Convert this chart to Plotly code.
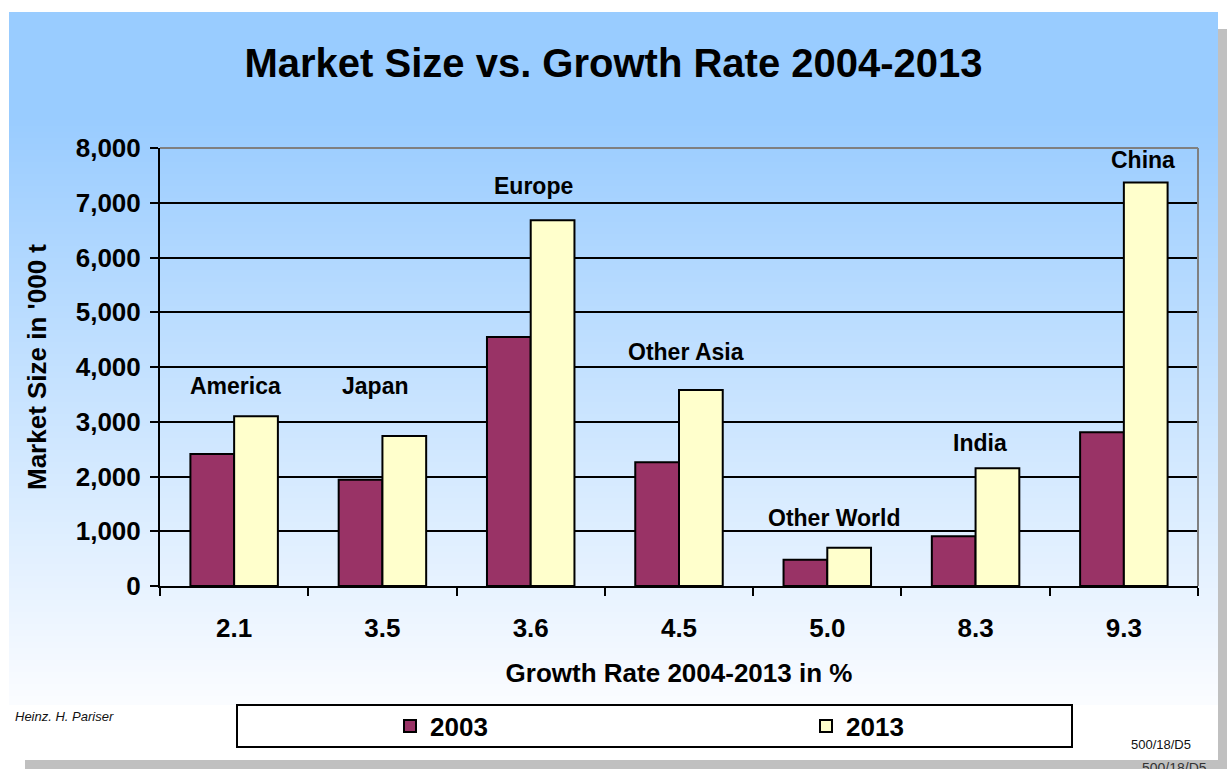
import plotly.graph_objects as go

# ---- data -------------------------------------------------------------
growth_rates = ["2.1", "3.5", "3.6", "4.5", "5.0", "8.3", "9.3"]
regions = ["America", "Japan", "Europe", "Other Asia", "Other World", "India", "China"]
size_2003 = [2410, 1940, 4550, 2260, 480, 910, 2810]
size_2013 = [3100, 2740, 6680, 3580, 700, 2150, 7370]
y_ticks = [0, 1000, 2000, 3000, 4000, 5000, 6000, 7000, 8000]

# pixel nudges for the region labels (relative to the taller bar of each group)
label_dx = [1, -7, 3, 7, 7, 4, 19]
label_dy = [30, 50, 34, 38, 30, 25, 22]

# ---- page geometry ----------------------------------------------------
W, H = 1227, 769
L, R, T, B = 160, 29, 148, 183
PW, PH = W - L - R, H - T - B
FONT = "Arial, 'Liberation Sans', sans-serif"


def px(x):
    return (x - L) / PW


def py(y):
    return (H - B - y) / PH


def rect(x0, y0, x1, y1, **kw):
    return dict(type="rect", xref="paper", yref="paper",
                x0=px(x0), x1=px(x1), y0=py(y1), y1=py(y0), **kw)


def panel_color(y):
    top, bottom = (153, 204, 255), (250, 252, 255)
    if y <= 120:
        t = 0.0
    else:
        t = min(1.0, (y - 120) / (700 - 120))
    c = [round(a + (b - a) * t) for a, b in zip(top, bottom)]
    return "rgb({},{},{})".format(*c)


shapes = []
# drop shadow of the slide panel
shapes.append(rect(1218, 29, 1227, 769, fillcolor="#C0C0C0", line_width=0, layer="below"))
shapes.append(rect(25, 760, 1227, 769, fillcolor="#C0C0C0", line_width=0, layer="below"))
# panel body (white) and its blue gradient part
shapes.append(rect(9, 12, 1218, 760, fillcolor="white", line_width=0, layer="below"))
step = 6
for y in range(12, 705, step):
    shapes.append(rect(9, y, 1218, min(y + step + 1, 705),
                       fillcolor=panel_color(y + step / 2), line_width=0, layer="below"))
# legend frame
shapes.append(rect(237, 705, 1072, 747, fillcolor="white",
                   line=dict(color="black", width=2), layer="below"))
# grey frame on top and right of the plot area
shapes.append(dict(type="line", xref="paper", yref="paper", x0=0, x1=1, y0=1, y1=1,
                   line=dict(color="#808080", width=2), layer="above"))
shapes.append(dict(type="line", xref="paper", yref="paper", x0=1, x1=1, y0=0, y1=1,
                   line=dict(color="#808080", width=2), layer="above"))

fig = go.Figure()
fig.add_trace(go.Bar(
    name="2003", x=growth_rates, y=size_2003,
    marker=dict(color="#993366", line=dict(color="black", width=2)),
))
fig.add_trace(go.Bar(
    name="2013", x=growth_rates, y=size_2013,
    marker=dict(color="#FFFFCC", line=dict(color="black", width=2)),
))

annotations = []
for i, (name, a, b, dx, dy) in enumerate(zip(regions, size_2003, size_2013, label_dx, label_dy)):
    # category axes take the category index for annotation positions
    annotations.append(dict(
        x=i, y=max(a, b), xref="x", yref="y", text=name, showarrow=False,
        xshift=dx, yshift=dy, xanchor="center", yanchor="middle",
        font=dict(family=FONT, size=23, color="black", weight="bold"),
    ))

annotations.append(dict(
    x=px(13), y=py(716), xref="paper", yref="paper", text="Heinz. H. Pariser",
    showarrow=False, xanchor="left", yanchor="middle",
    font=dict(family=FONT, size=13, color="#111111", style="italic"),
))
annotations.append(dict(
    x=px(1193), y=py(744), xref="paper", yref="paper", text="500/18/D5",
    showarrow=False, xanchor="right", yanchor="middle",
    font=dict(family=FONT, size=13, color="#111111"),
))
annotations.append(dict(
    x=px(1209), y=py(758), xref="paper", yref="paper", text="500/18/D5",
    showarrow=False, xanchor="right", yanchor="top",
    font=dict(family=FONT, size=14, color="#333333"),
))

fig.update_layout(
    width=W, height=H,
    margin=dict(l=L, r=R, t=T, b=B, autoexpand=False),
    paper_bgcolor="white",
    plot_bgcolor="rgba(0,0,0,0)",
    barmode="group", bargap=0.41, bargroupgap=0,
    shapes=shapes,
    annotations=annotations,
    title=dict(
        text="Market Size vs. Growth Rate 2004-2013",
        x=0.5, xref="container", xanchor="center",
        y=1 - 63 / H, yref="container", yanchor="middle",
        font=dict(family=FONT, size=40, color="black", weight="bold"),
    ),
    legend=dict(
        orientation="h", x=px(390), y=py(726), xanchor="left", yanchor="middle",
        xref="paper", yref="paper",
        entrywidth=371, entrywidthmode="pixels",
        bgcolor="rgba(0,0,0,0)", borderwidth=0,
        font=dict(family=FONT, size=26, color="black", weight="bold"),
        traceorder="normal",
    ),
    font=dict(family=FONT, color="black"),
)

fig.update_xaxes(
    type="category", categoryorder="array", categoryarray=growth_rates,
    range=[-0.5, len(growth_rates) - 0.5],
    showline=True, linecolor="black", linewidth=2,
    ticks="outside", tickson="boundaries", ticklen=8, tickwidth=2, tickcolor="black",
    showgrid=False, automargin=False,
    tickfont=dict(family=FONT, size=26, color="black", weight="bold"),
    ticklabelstandoff=18,
    title=dict(text="Growth Rate 2004-2013 in %", standoff=22,
               font=dict(family=FONT, size=26, color="black", weight="bold")),
)
fig.update_yaxes(
    range=[0, 8000], tickvals=y_ticks, tickformat=",d",
    showline=True, linecolor="black", linewidth=2,
    ticks="outside", ticklen=8, tickwidth=1.5, tickcolor="black",
    showgrid=True, gridcolor="black", gridwidth=1.5, zeroline=False,
    automargin=False,
    tickfont=dict(family=FONT, size=26, color="black", weight="bold"),
    ticklabelstandoff=4,
    title=dict(text="Market Size in '000 t", standoff=22,
               font=dict(family=FONT, size=26, color="black", weight="bold")),
)

fig.write_html("out.html")
